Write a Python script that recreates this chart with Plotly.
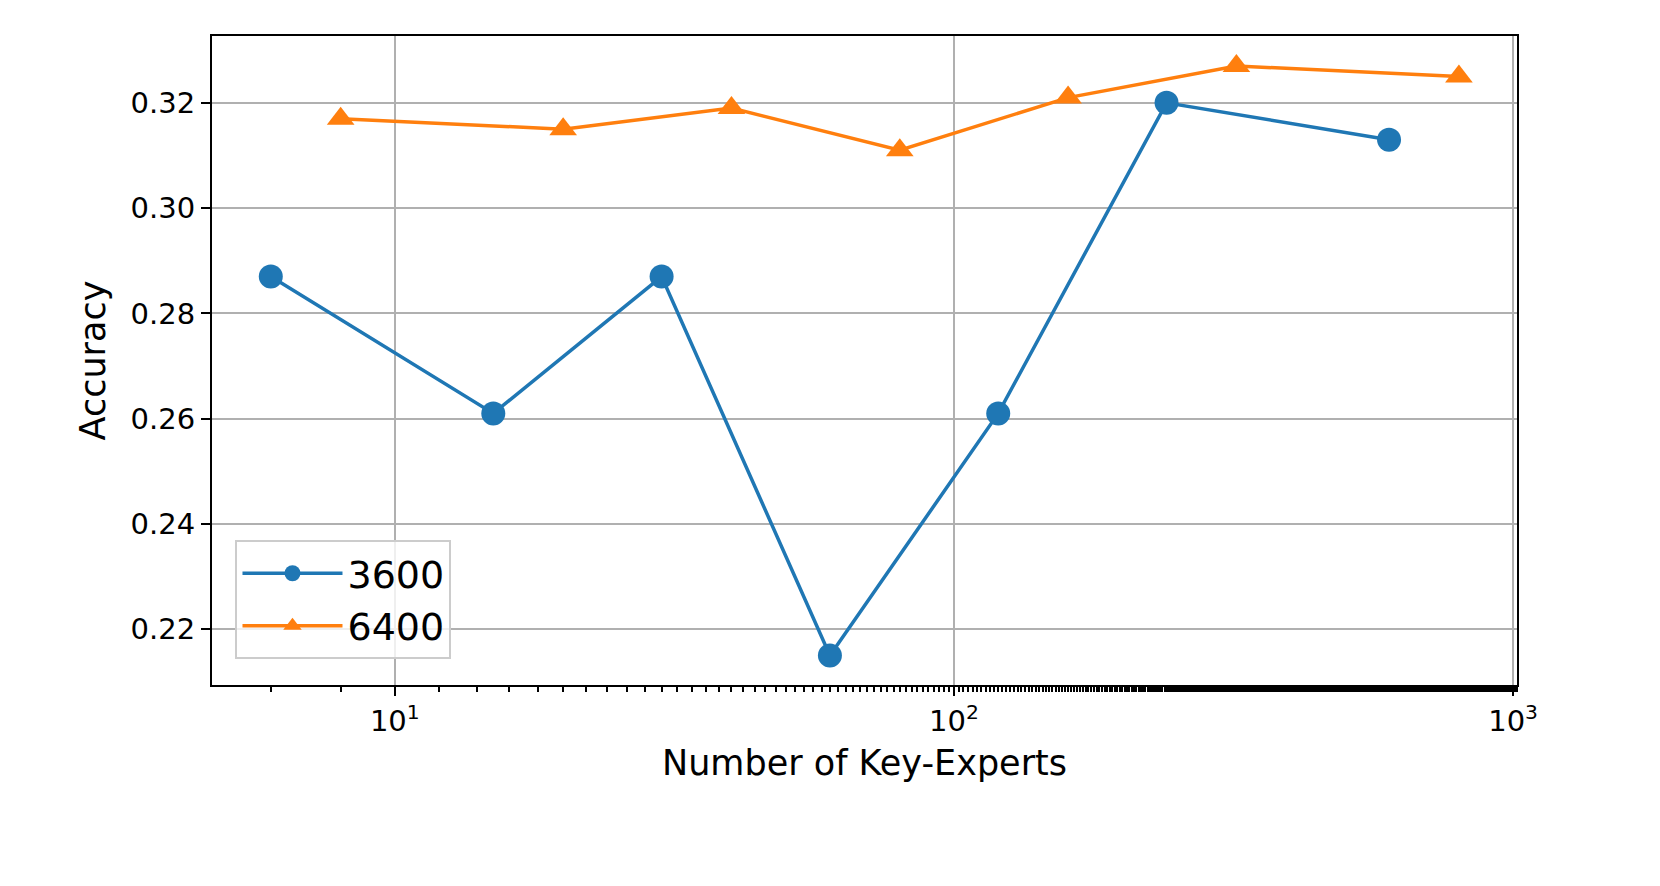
import plotly.graph_objects as go

# series 3600
x_3600 = [6, 15, 30, 60, 120, 240, 600]
y_3600 = [0.287, 0.261, 0.287, 0.215, 0.261, 0.320, 0.313]
# series 6400
x_6400 = [8, 20, 40, 80, 160, 320, 800]
y_6400 = [0.317, 0.315, 0.319, 0.311, 0.321, 0.327, 0.325]

x_tickvals = [10, 100, 1000]
x_ticktext = ["10<sup>1</sup>", "10<sup>2</sup>", "10<sup>3</sup>"]

fig = go.Figure()
fig.add_trace(go.Scatter(x=x_3600, y=y_3600, name="3600", mode="lines+markers",
                         line=dict(color="#1f77b4", width=3.5),
                         marker=dict(symbol="circle", size=24, color="#1f77b4")))
fig.add_trace(go.Scatter(x=x_6400, y=y_6400, name="6400", mode="lines+markers",
                         line=dict(color="#ff7f0e", width=3.5),
                         marker=dict(symbol="triangle-up", size=24, color="#ff7f0e")))

axis_common = dict(showline=True, linecolor="black", linewidth=2, mirror=True,
                   ticks="outside", ticklen=9, tickwidth=1.5, tickcolor="black",
                   showgrid=True, gridcolor="#b0b0b0", gridwidth=2, zeroline=False,
                   tickfont=dict(size=29, color="black"))

fig.update_xaxes(type="log", range=[0.673, 3.007], tickvals=x_tickvals, ticktext=x_ticktext,
                 title=dict(text="Number of Key-Experts", font=dict(size=35, color="black"),
                            standoff=14),
                 minor=dict(ticks="outside", ticklen=5, tickcolor="black", showgrid=False),
                 **axis_common)
fig.update_yaxes(range=[0.2094, 0.3327], dtick=0.02, tickformat=".2f",
                 title=dict(text="Accuracy", font=dict(size=35, color="black"), standoff=14),
                 **axis_common)

fig.update_layout(
    width=1660, height=886,
    margin=dict(l=204, r=151, t=28, b=209),
    plot_bgcolor="white", paper_bgcolor="white",
    font=dict(family="DejaVu Sans", color="black"),
    legend=dict(x=0.018, y=0.04, xanchor="left", yanchor="bottom",
                bgcolor="rgba(255,255,255,0.8)", bordercolor="#cccccc", borderwidth=2,
                font=dict(size=38), itemwidth=100),
)
fig.write_html("out.html")
